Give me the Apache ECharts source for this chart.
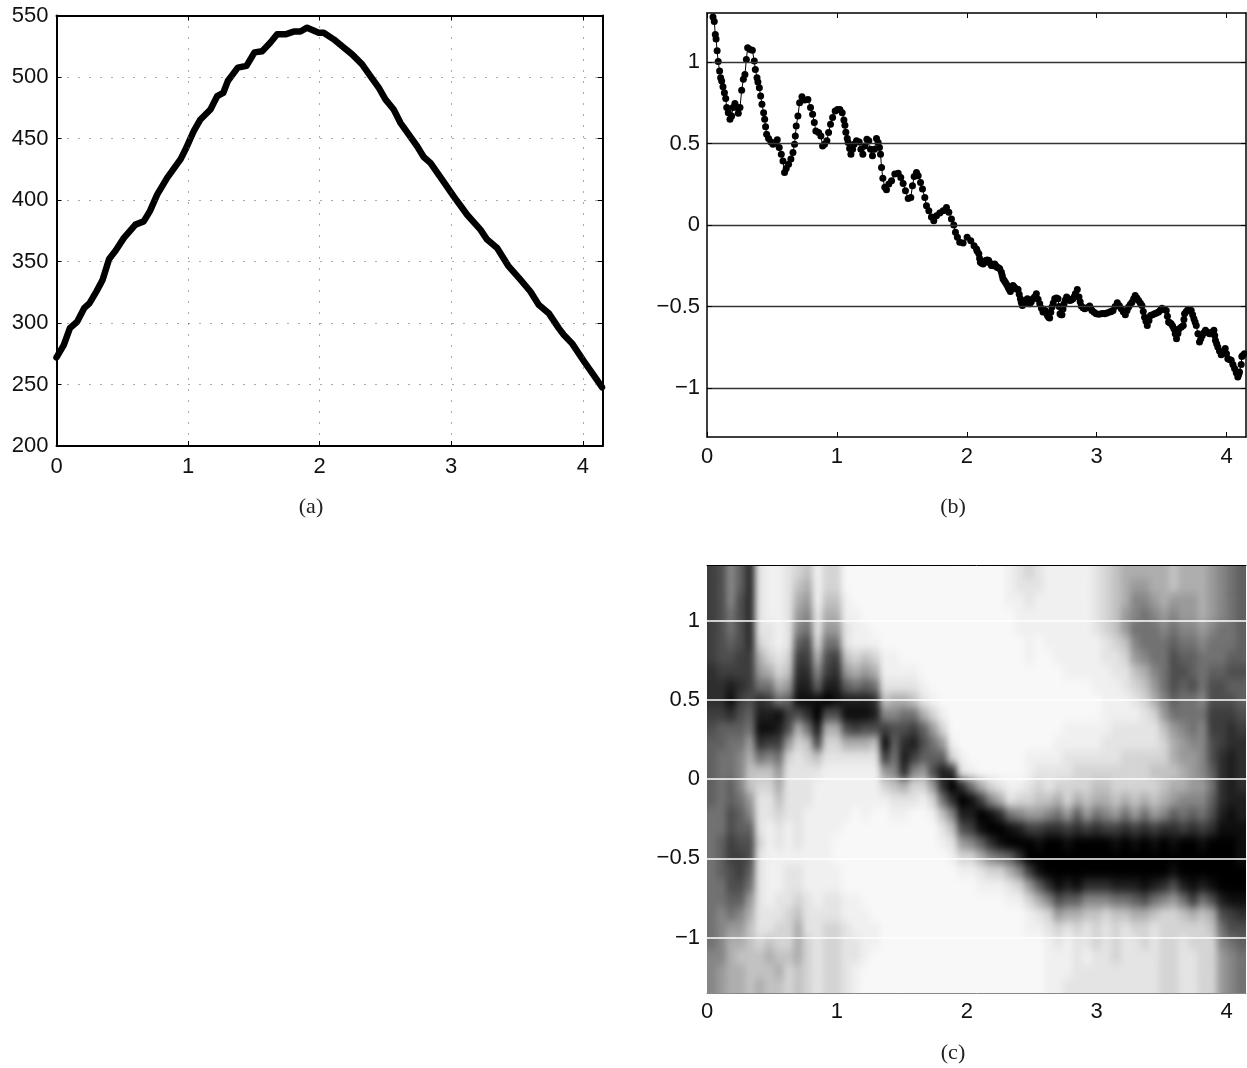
<!DOCTYPE html>
<html>
<head>
<meta charset="utf-8">
<style>
html,body{margin:0;padding:0;background:#fff}
#chart{width:1247px;height:1068px}
canvas[data-zr-dom-id="zr_0"]{filter:url(#soft);clip-path:inset(565px 1px 75px 707px)}
</style>
<script src="https://cdn.jsdelivr.net/npm/echarts@6/dist/echarts.min.js"></script>
</head>
<body>
<svg width="0" height="0" style="position:absolute">
<filter id="soft" x="0" y="0" width="100%" height="100%" color-interpolation-filters="sRGB">
<feGaussianBlur stdDeviation="3 5"/>
<feComponentTransfer><feFuncA type="linear" slope="200"/></feComponentTransfer>
</filter>
</svg>
<div id="chart"></div>
<script>
const xTicks = [0,1,2,3,4];
const yTicksA = [200,250,300,350,400,450,500,550];
const yTicksBC = [-1,-0.5,0,0.5,1];
const captions = ['(a)','(b)','(c)'];

const aX = [0,.055,.102,.157,.21,.25,.304,.35,.4,.45,.511,.6,.663,.71,.765,.841,.942,.98,1.043,1.094,1.17,1.221,1.267,1.302,1.378,1.444,1.505,1.563,1.626,1.677,1.74,1.803,1.854,1.905,1.993,2.031,2.107,2.183,2.247,2.323,2.386,2.449,2.5,2.563,2.614,2.677,2.741,2.791,2.842,2.931,3.019,3.121,3.222,3.273,3.349,3.437,3.526,3.602,3.665,3.741,3.817,3.855,3.917,4.01,4.08,4.146];
const aY = [272,282,295.8,301,312,316,325.7,335,352,359,369,380,382.6,391,404.4,418,433,441,456,465.5,473.6,484.4,487,496.7,507.6,509,520,521,528,534.7,534.7,536.9,537,540.1,536,536,530.6,523.9,518.4,510.3,500.8,491.3,481.8,473.6,462.8,453.3,443.7,435,430.2,416.6,403,388,375.9,367.8,361,346,335.2,325.6,314.8,308,295.8,290.4,283.6,268.7,258,247.8];

const bX = [.046,.056,.064,.07,.078,.086,.097,.105,.113,.123,.134,.144,.152,.164,.177,.19,.2,.215,.231,.241,.254,.267,.28,.292,.303,.313,.331,.349,.364,.372,.385,.392,.403,.413,.423,.436,.444,.451,.459,.474,.492,.508,.526,.541,.556,.572,.585,.597,.61,.628,.646,.662,.674,.68,.687,.7,.713,.731,.751,.777,.797,.813,.826,.838,.859,.877,.89,.905,.923,.936,.951,.967,.987,1.005,1.023,1.041,1.054,1.062,1.069,1.08,1.087,1.098,1.108,1.121,1.133,1.151,1.172,1.185,1.2,1.215,1.231,1.246,1.259,1.274,1.29,1.305,1.318,1.328,1.336,1.344,1.354,1.369,1.382,1.4,1.421,1.446,1.472,1.492,1.51,1.528,1.549,1.569,1.582,1.595,1.613,1.626,1.644,1.659,1.677,1.69,1.708,1.728,1.746,1.767,1.792,1.818,1.844,1.862,1.882,1.9,1.913,1.928,1.946,1.972,2.003,2.031,2.056,2.075,2.093,2.105,2.126,2.146,2.169,2.19,2.215,2.233,2.254,2.267,2.279,2.297,2.318,2.336,2.356,2.374,2.395,2.413,2.428,2.446,2.467,2.485,2.51,2.536,2.562,2.587,2.605,2.621,2.638,2.656,2.677,2.703,2.718,2.733,2.749,2.769,2.792,2.818,2.836,2.851,2.864,2.882,2.908,2.946,2.964,2.997,3.036,3.062,3.1,3.126,3.159,3.19,3.221,3.246,3.272,3.297,3.323,3.349,3.369,3.39,3.415,3.446,3.477,3.503,3.536,3.554,3.574,3.595,3.615,3.636,3.667,3.677,3.703,3.728,3.749,3.767,3.792,3.813,3.838,3.869,3.903,3.915,3.933,3.959,3.99,4.01,4.036,4.062,4.087,4.1,4.113,4.118,4.138];
const bY = [1.276,1.248,1.168,1.14,1.068,1.003,.944,.903,.883,.848,.811,.775,.72,.689,.648,.668,.72,.745,.72,.685,.72,.826,.893,.923,1.015,1.087,1.076,1.072,1.005,.954,.903,.877,.842,.791,.74,.689,.648,.603,.556,.53,.509,.495,.506,.522,.475,.434,.393,.322,.347,.373,.404,.444,.495,.546,.607,.668,.75,.787,.766,.77,.72,.679,.628,.577,.567,.546,.485,.495,.516,.567,.618,.659,.699,.709,.709,.689,.644,.612,.569,.53,.506,.469,.434,.465,.495,.516,.509,.465,.434,.485,.526,.516,.465,.424,.465,.53,.506,.475,.434,.353,.286,.231,.216,.251,.271,.312,.318,.292,.255,.21,.163,.169,.24,.298,.322,.302,.261,.22,.169,.118,.087,.049,.026,.057,.073,.087,.108,.078,.037,0,-.045,-.075,-.106,-.11,-.075,-.096,-.127,-.147,-.177,-.228,-.239,-.218,-.218,-.249,-.239,-.259,-.269,-.289,-.33,-.351,-.381,-.408,-.371,-.391,-.396,-.453,-.493,-.473,-.453,-.483,-.453,-.422,-.483,-.534,-.524,-.555,-.571,-.503,-.453,-.453,-.544,-.55,-.483,-.442,-.463,-.453,-.422,-.396,-.442,-.497,-.514,-.497,-.524,-.544,-.544,-.544,-.534,-.524,-.477,-.514,-.55,-.503,-.473,-.432,-.463,-.493,-.565,-.616,-.555,-.544,-.534,-.51,-.524,-.595,-.606,-.636,-.697,-.636,-.616,-.544,-.518,-.524,-.575,-.616,-.718,-.677,-.646,-.667,-.646,-.708,-.748,-.795,-.758,-.82,-.83,-.88,-.932,-.901,-.856,-.807,-.789];
const bXExtra = [2.08,2.099,2.115,2.136,2.158,2.18,2.203,2.224,2.244,2.273,2.288,2.307,2.327,2.346,2.365,2.385,2.404,2.42,2.437,2.457,2.476,2.497,2.523,2.549,2.575,2.596,2.613,2.63,2.647,2.666,2.69,2.711,2.726,2.741,2.759,2.78,2.805,2.827,2.873,2.895,2.927,2.955,2.98,3.016,3.05,3.08,3.113,3.142,3.175,3.205,3.234,3.259,3.285,3.31,3.336,3.359,3.38,3.403,3.43,3.461,3.49,3.52,3.545,3.564,3.585,3.605,3.626,3.652,3.672,3.69,3.716,3.739,3.758,3.78,3.802,3.825,3.853,3.886,3.909,3.924,3.946,3.975,4,4.023,4.049,4.075,4.094,4.125];
const bYExtra = [-.16,-.205,-.235,-.23,-.215,-.235,-.25,-.25,-.262,-.31,-.34,-.365,-.395,-.39,-.38,-.392,-.425,-.475,-.485,-.46,-.47,-.47,-.44,-.455,-.51,-.53,-.54,-.565,-.535,-.478,-.448,-.5,-.55,-.515,-.46,-.452,-.46,-.44,-.47,-.507,-.507,-.51,-.535,-.547,-.542,-.54,-.53,-.5,-.495,-.532,-.525,-.488,-.452,-.447,-.478,-.53,-.59,-.585,-.55,-.54,-.522,-.517,-.56,-.6,-.62,-.667,-.665,-.625,-.58,-.53,-.52,-.55,-.595,-.667,-.697,-.66,-.657,-.657,-.677,-.728,-.772,-.777,-.79,-.825,-.855,-.906,-.917,-.8];

// Darkness of panel (c), 0 lightest to f black; one string per time column, top row first, spaces only group the 30 rows.
const darknessByColumn = [
'bbbbb bbccc ba999 99888 88888 88777',
'aaaaa aabcc b9988 88889 99887 77766',
'77788 9abde c9888 99aab baa98 65555',
'99aaa abbcb a9877 7899a bba97 65455',
'ccccc cbbba 98654 4679a a9865 44444',
'22222 3568c dec84 32223 22222 23445',
'11112 2358b deb74 32211 11112 24544',
'11111 12358 edb86 54322 11122 33454',
'22222 23469 ba632 22211 12223 33433',
'34567 9bcde a5322 22222 12234 55544',
'45678 abcde c8432 22111 11122 23333',
'11122 3579e fda42 11111 11112 22222',
'33456 8abdf a5321 11111 11122 33333',
'33456 8bcde a5321 11110 01122 33333',
'00112 2469d ea521 11100 00011 22222',
'00011 1358d eb521 11000 00011 12211',
'00001 1469d ea521 11100 00001 11100',
'00000 1358c da421 11000 00000 11000',
'00000 01124 7beb6 31000 00000 00000',
'00000 01125 7a987 42100 00000 00000',
'00000 00125 8acdc 52100 00000 00000',
'00000 00124 8bdb7 32000 00000 00000',
'00000 00012 59a96 31000 00000 00000',
'00000 00001 3689a 63100 00000 00000',
'00000 00000 1369d c8421 00000 00000',
'00000 00000 0013c fc742 10000 00000',
'00000 00000 00012 cfda6 31000 00000',
'00000 00000 00001 8edb7 31000 00000',
'00000 00000 00000 5bfe9 52100 00000',
'00000 00000 00000 37efc 73100 00000',
'00000 00000 00000 25cfe 83100 00000',
'11100 00000 00000 128ef 95210 00000',
'22111 00000 00000 137df c7310 00000',
'32211 11000 00011 236bf fb631 10000',
'22111 00000 00012 346be fe952 10000',
'11111 10000 00012 247cf ffc73 21111',
'11111 11000 00112 358cf ffea6 32111',
'11111 11100 01122 336be ffd95 21112',
'11111 11100 01123 359cf ffe95 32222',
'11111 11100 01123 346bf ffc74 22122',
'22222 11110 01123 458cf ffc74 33222',
'33333 22111 11223 457bf ffc73 22222',
'44444 32211 12223 346be ffd84 33322',
'55566 43221 12233 358cf ffd84 22222',
'56778 76432 12233 346be ffd95 32222',
'56788 87543 22233 358cf ffea5 33222',
'55678 88765 32234 346be ffd84 22222',
'55567 88887 64334 457cf ffc73 33333',
'44678 9aaa9 86554 569ce fea63 33333',
'55667 89a98 87665 578bf ffd84 32222',
'55667 899a8 88766 679cf ffeb5 33222',
'55556 78887 87777 678be ffd84 33333',
'66667 889aa bbaa9 89acf ffea5 43333',
'77778 889aa bbbcc ccdef fffda 87666',
'88888 89a9a bccdd ddeef fffeb a8777',
'99999 99a99 abccc cddee effec a9888'
].map(s => s.replace(/\s/g,''));
const heatColumns = darknessByColumn.map((_, i) => ((i + .5) * 4.15 / darknessByColumn.length).toFixed(3));
const heatRows = Array.from({length:30}, (_, r) => (1.305 - r * .09).toFixed(3));
const grayRamp = ['#f8f8f8','#f0f0f0','#e4e4e4','#d4d4d4','#c2c2c2','#aeaeae','#9a9a9a','#868686','#727272','#606060','#4e4e4e','#3e3e3e','#2e2e2e','#1e1e1e','#0e0e0e','#000000'];

const FONT = 'Liberation Sans';
const zip = (xs, ys) => xs.map((x, i) => [x, ys[i]]);
const minus = v => String(v).replace('-', '\u2212');
const heatData = [];
darknessByColumn.forEach((col, c) => { for (let r = 0; r < 30; r++) heatData.push([c, 29 - r, parseInt(col[r], 16)]); });
const panelB = zip(bX, bY).concat(zip(bXExtra, bYExtra)).sort((p, q) => p[0] - q[0]);

function valueAxis(gridIndex, position, min, max, ticks, labelled, extra, label) {
  return Object.assign({
    type:'value', gridIndex, position, min, max, zlevel:1, z:5,
    axisLine:{show:true, onZero:false, lineStyle:{color:'#000', width:1.5}},
    axisTick:{show:true, inside:true, length:5, customValues:ticks, lineStyle:{color:'#000', width:1}},
    axisLabel:Object.assign({show:labelled, customValues:ticks, formatter:minus, color:'#111', fontFamily:FONT, fontSize:22, margin:8}, label || {}),
    splitLine:{show:false}
  }, extra || {});
}
const dotted = {show:true, lineStyle:{color:'#555', width:1, type:[1,10]}};
const solid = {show:true, lineStyle:{color:'#333', width:1.3, type:'solid'}};
const white = {show:true, lineStyle:{color:'#fff', width:1.5, type:'solid'}};

const option = {
  animation:false,
  backgroundColor:'transparent',
  title: captions.map((text, i) => ({
    text, zlevel:1, textAlign:'center', left:[311,953,953][i], top:[496,496,1042][i], padding:0,
    textStyle:{fontFamily:'Liberation Serif', fontWeight:'normal', fontSize:22, color:'#222'}
  })),
  grid:[
    {left:56.5, top:15.5, width:546, height:430.5, zlevel:1, show:false},
    {left:707, top:13, width:539, height:424, zlevel:1, show:false},
    {left:707, top:565, width:539, height:428, zlevel:1, show:false}
  ],
  xAxis:[
    valueAxis(0,'bottom',0,4.15,xTicks,true,{splitLine:dotted, axisLine:{show:true,onZero:false,lineStyle:{color:'#000',width:2}}},{margin:10}),
    valueAxis(0,'top',0,4.15,xTicks,false,{axisLine:{show:true,onZero:false,lineStyle:{color:'#000',width:2}}}),
    valueAxis(1,'bottom',0,4.15,xTicks,true,{},{margin:9}),
    valueAxis(1,'top',0,4.15,xTicks,false),
    valueAxis(2,'bottom',0,4.15,xTicks,true,{axisTick:{show:false, customValues:xTicks}, axisLine:{show:true,onZero:false,lineStyle:{color:'#888',width:1}}},{margin:8}),
    {type:'category', gridIndex:2, data:heatColumns, show:false, zlevel:0},
    valueAxis(2,'top',0,4.15,xTicks,false,{axisTick:{show:false, customValues:xTicks}, axisLine:{show:true,onZero:false,lineStyle:{color:'#000',width:1}}})
  ],
  yAxis:[
    valueAxis(0,'left',200,550,yTicksA,true,{splitLine:dotted, axisLine:{show:true,onZero:false,lineStyle:{color:'#000',width:2}}},{padding:[4,0,0,0]}),
    valueAxis(0,'right',200,550,yTicksA,false,{axisLine:{show:true,onZero:false,lineStyle:{color:'#000',width:2}}}),
    valueAxis(1,'left',-1.3,1.3,yTicksBC,true,{splitLine:solid},{margin:7}),
    valueAxis(1,'right',-1.3,1.3,yTicksBC,false),
    valueAxis(2,'left',-1.35,1.35,yTicksBC,true,{splitLine:white, axisTick:{show:false, customValues:yTicksBC}, axisLine:{show:false,onZero:false}},{margin:7}),
    {type:'category', gridIndex:2, data:heatRows.slice().reverse(), show:false, zlevel:0}
  ],
  visualMap:{show:false, type:'continuous', min:0, max:15, seriesIndex:2, inRange:{color:grayRamp}},
  series:[
    {type:'line', xAxisIndex:0, yAxisIndex:0, data:zip(aX,aY), zlevel:1, z:3, showSymbol:false, symbol:'none', clip:false,
     lineStyle:{color:'#000', width:6.5, cap:'round', join:'round'}},
    {type:'line', xAxisIndex:2, yAxisIndex:2, data:panelB, zlevel:1, z:3, symbol:'circle', symbolSize:7, showSymbol:true, showAllSymbol:true, clip:false,
     itemStyle:{color:'#000'}, lineStyle:{color:'#000', width:1}},
    {type:'heatmap', xAxisIndex:5, yAxisIndex:5, data:heatData, zlevel:0, z:1, progressive:0, itemStyle:{borderWidth:0}}
  ]
};
const chart = echarts.init(document.getElementById('chart'), null, {renderer:'canvas'});
chart.setOption(option);
</script>
</body>
</html>
